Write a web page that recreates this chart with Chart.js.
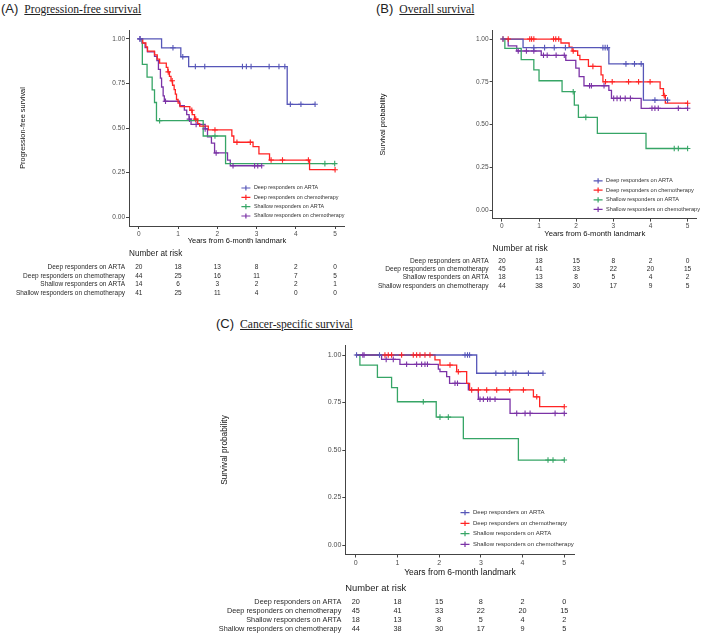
<!DOCTYPE html>
<html>
<head>
<meta charset="utf-8">
<script src="https://cdn.jsdelivr.net/npm/chart.js@4.4.1/dist/chart.umd.min.js"></script>
<style>
  body { margin: 0; background: #fff; width: 702px; height: 636px; position: relative; overflow: hidden; }
  canvas { position: absolute; }
  .ttl { position: absolute; white-space: nowrap; color: #222; line-height: 15px; }
  .ttl .lab { font-family: "Liberation Sans", Arial, sans-serif; font-size: 13px; }
  .ttl .nm { font-family: "Liberation Serif", "Times New Roman", serif; font-size: 11.6px; text-decoration: underline; margin-left: 6px; }
</style>
</head>
<body>
<div class="ttl" style="left:1px;top:0px"><span class="lab">(A)</span><span class="nm">Progression-free survival</span></div>
<div class="ttl" style="left:376px;top:0px"><span class="lab">(B)</span><span class="nm">Overall survival</span></div>
<div class="ttl" style="left:216px;top:315px"><span class="lab">(C)</span><span class="nm">Cancer-specific survival</span></div>

<canvas id="pfs" width="350" height="300" style="left:0;top:0"></canvas>
<canvas id="os" width="352" height="300" style="left:350px;top:0"></canvas>
<canvas id="css" width="400" height="306" style="left:200px;top:330px"></canvas>

<script>
// groups (same order in every panel)
const groups = ["Deep responders on ARTA", "Deep responders on chemotherapy",
  "Shallow responders on ARTA", "Shallow responders on chemotherapy"];
const colors = ["#5656B8", "#FF2424", "#36A566", "#7B33A6"];

const xTicks = [0, 1, 2, 3, 4, 5];
const yTicks = [0, 0.25, 0.5, 0.75, 1];
const yTickLabels = ["0.00", "0.25", "0.50", "0.75", "1.00"];

// (A) progression-free survival: event times, survival after each event, censor times
const pfsTimes = [
  [0.58, 1.07, 1.27, 3.78],
  [0.10, 0.18, 0.22, 0.40, 0.47, 0.53, 0.70, 0.74, 0.78, 0.82, 0.86, 0.90, 0.93, 0.96, 1.00, 1.05, 1.30, 1.36, 1.42, 1.50, 1.55, 1.77, 2.37, 2.42, 2.91, 3.06, 3.33, 4.35],
  [0.09, 0.21, 0.34, 0.40, 0.45, 1.64, 2.21],
  [0.08, 0.16, 0.22, 0.40, 0.46, 0.50, 0.55, 0.58, 0.62, 0.65, 1.04, 1.16, 1.22, 1.28, 1.33, 1.69, 1.75, 1.85, 1.93, 2.26, 2.33]
];
const pfsSurv = [
  [0.95, 0.90, 0.845, 0.633],
  [0.977, 0.955, 0.932, 0.91, 0.886, 0.864, 0.84, 0.815, 0.79, 0.765, 0.74, 0.715, 0.69, 0.66, 0.64, 0.62, 0.60, 0.575, 0.55, 0.525, 0.51, 0.489, 0.455, 0.42, 0.395, 0.355, 0.32, 0.266],
  [0.857, 0.786, 0.714, 0.643, 0.541, 0.455, 0.30],
  [0.976, 0.951, 0.927, 0.902, 0.878, 0.829, 0.78, 0.73, 0.68, 0.65, 0.625, 0.60, 0.575, 0.55, 0.52, 0.495, 0.45, 0.415, 0.36, 0.32, 0.288]
];
const pfsCensor = [
  [0.03, 0.87, 1.12, 1.44, 1.68, 2.64, 2.74, 2.86, 3.32, 3.57, 3.72, 3.86, 4.13, 4.49],
  [0.75, 0.85, 1.35, 1.45, 1.94, 2.50, 2.84, 3.37, 3.66, 4.32, 5.0],
  [0.53, 1.94, 4.74, 4.99],
  [0.03, 0.68, 1.29, 1.46, 1.69, 1.97, 2.40, 2.95, 3.03, 3.13]
];
const pfsAtRisk = [[20, 18, 13, 8, 2, 0], [44, 25, 16, 11, 7, 5], [14, 6, 3, 2, 2, 1], [41, 25, 11, 4, 0, 0]];

// (B) overall survival
const osTimes = [
  [0.57, 2.88, 3.81],
  [1.59, 1.81, 1.89, 2.04, 2.10, 2.33, 2.67, 2.72, 4.26, 4.35, 4.40],
  [0.08, 0.52, 0.86, 1.00, 1.62, 1.95, 2.06, 2.57, 3.88],
  [0.17, 0.40, 1.06, 1.72, 1.99, 2.08, 2.21, 2.88, 2.95, 3.75]
];
const osSurv = [
  [0.95, 0.855, 0.643],
  [0.977, 0.953, 0.93, 0.905, 0.88, 0.84, 0.79, 0.75, 0.71, 0.67, 0.625],
  [0.945, 0.88, 0.82, 0.756, 0.692, 0.614, 0.542, 0.448, 0.36],
  [0.96, 0.93, 0.905, 0.875, 0.83, 0.78, 0.727, 0.70, 0.653, 0.595]
];
const osCensor = [
  [0.03, 0.86, 1.15, 1.41, 1.71, 2.72, 2.78, 2.84, 3.34, 3.57, 3.75, 4.12, 4.46],
  [0.03, 0.17, 0.75, 0.80, 0.86, 1.39, 1.45, 1.53, 1.92, 2.45, 2.79, 2.97, 3.41, 3.68, 3.99, 4.37, 5.0],
  [1.92, 2.26, 4.64, 4.75, 5.0],
  [0.44, 0.66, 0.86, 1.12, 1.22, 1.46, 1.68, 2.36, 2.41, 2.75, 3.01, 3.10, 3.19, 3.32, 3.46, 4.04, 4.12, 4.21, 4.75, 5.0]
];
const osAtRisk = [[20, 18, 15, 8, 2, 0], [45, 41, 33, 22, 20, 15], [18, 13, 8, 5, 4, 2], [44, 38, 30, 17, 9, 5]];

// (C) cancer-specific survival
const cssTimes = [
  [2.90],
  [1.90, 2.02, 2.42, 2.66, 2.73, 4.26, 4.41],
  [0.10, 0.52, 0.86, 1.00, 1.93, 2.58, 3.90],
  [0.62, 1.06, 1.98, 2.02, 2.18, 2.25, 2.70, 2.94, 3.70]
];
const cssSurv = [
  [0.904],
  [0.974, 0.947, 0.912, 0.851, 0.816, 0.78, 0.728],
  [0.947, 0.882, 0.828, 0.754, 0.673, 0.56, 0.447],
  [0.977, 0.951, 0.926, 0.912, 0.886, 0.851, 0.816, 0.767, 0.693]
];
const cssCensor = [
  [0.02, 0.57, 2.62, 2.68, 2.73, 3.36, 3.58, 3.77, 3.84, 4.14, 4.49],
  [0.70, 0.78, 0.86, 1.10, 1.38, 1.46, 1.54, 1.66, 1.78, 2.26, 2.46, 2.78, 2.94, 3.14, 3.38, 3.69, 4.02, 4.34, 5.0],
  [1.62, 2.02, 2.22, 4.61, 4.73, 5.0],
  [0.17, 0.20, 0.73, 0.90, 1.22, 1.46, 1.58, 1.66, 1.72, 2.38, 2.44, 2.98, 3.06, 3.16, 3.22, 3.34, 3.86, 4.06, 4.18, 4.78, 5.0]
];
const cssAtRisk = [[20, 18, 15, 8, 2, 0], [45, 41, 33, 22, 20, 15], [18, 13, 8, 5, 4, 2], [44, 38, 30, 17, 9, 5]];

const FONT = '"Liberation Sans", Arial, sans-serif';

// survival value of a step curve at time t
function survAt(times, surv, t) {
  let s = 1;
  times.forEach((tt, i) => { if (tt <= t) s = surv[i]; });
  return s;
}

function buildDatasets(times, surv, cens) {
  const lines = [], marks = [];
  times.forEach((tArr, g) => {
    const sArr = surv[g];
    const end = Math.max(tArr[tArr.length - 1], ...cens[g]);
    const pts = [{ x: 0, y: 1 }];
    tArr.forEach((t, i) => pts.push({ x: t, y: sArr[i] }));
    pts.push({ x: end, y: sArr[sArr.length - 1] });
    lines.push({
      data: pts, borderColor: colors[g], borderWidth: 1.3, stepped: 'before',
      pointRadius: 0, fill: false
    });
    marks.push({
      data: cens[g].map(t => ({ x: t, y: survAt(tArr, sArr, t) })),
      showLine: false, pointStyle: 'cross', pointRadius: 2.8, borderWidth: 1.1,
      borderColor: colors[g], backgroundColor: colors[g]
    });
  });
  return marks.concat(lines);
}

function makePanel(id, times, surv, cens, atRisk, yTitle, lay) {
  // legend inside the plot + number-at-risk table under it
  const extras = {
    id: 'extras' + id,
    afterDraw(chart) {
      const ctx = chart.ctx, a = chart.chartArea, xs = chart.scales.x;
      ctx.save();
      ctx.textBaseline = 'middle';
      groups.forEach((name, g) => {
        const y = a.bottom - lay.legRows[g];
        const sx = a.right - lay.legSym;
        ctx.strokeStyle = colors[g];
        ctx.lineWidth = 1.2;
        ctx.beginPath();
        ctx.moveTo(sx - 4.5, y); ctx.lineTo(sx + 4.5, y);
        ctx.moveTo(sx, y - 2.6); ctx.lineTo(sx, y + 2.6);
        ctx.stroke();
        ctx.fillStyle = '#333';
        ctx.font = lay.legFont + 'px ' + FONT;
        ctx.textAlign = 'left';
        ctx.fillText(name, a.right - lay.legSym + 8, y);
      });
      ctx.fillStyle = '#222';
      ctx.font = lay.hdrFont + 'px ' + FONT;
      ctx.textAlign = 'left';
      ctx.fillText('Number at risk', a.left, lay.hdrY);
      ctx.font = lay.rowFont + 'px ' + FONT;
      ctx.fillStyle = '#2a2a2a';
      atRisk.forEach((row, g) => {
        const y = lay.rowY[g];
        ctx.textAlign = 'right';
        ctx.fillText(groups[g], a.left - 4, y);
        ctx.textAlign = 'center';
        row.forEach((n, j) => ctx.fillText(String(n), xs.getPixelForValue(xTicks[j]), y));
      });
      ctx.restore();
    }
  };

  return new Chart(document.getElementById(id), {
    type: 'line',
    data: { datasets: buildDatasets(times, surv, cens) },
    options: {
      responsive: false,
      animation: false,
      layout: { padding: lay.pad },
      plugins: { legend: { display: false }, tooltip: { enabled: false } },
      scales: {
        x: {
          type: 'linear', min: -0.25, max: 5.25,
          afterBuildTicks: s => { s.ticks = xTicks.map(v => ({ value: v })); },
          afterFit: s => { s.height = lay.xh; },
          ticks: { font: { size: lay.tickFont, family: FONT }, color: '#4d4d4d', padding: 1, maxRotation: 0 },
          grid: { drawOnChartArea: false, drawTicks: true, tickLength: 3, color: '#444' },
          border: { color: '#444', width: 1 },
          title: { display: true, text: 'Years from 6-month landmark', color: '#111',
            font: { size: lay.xTitleFont, family: FONT }, padding: 0 }
        },
        y: {
          min: -0.05, max: 1.05,
          afterBuildTicks: s => { s.ticks = yTicks.map(v => ({ value: v })); },
          afterFit: s => { s.width = lay.yw; },
          ticks: { font: { size: lay.tickFont, family: FONT }, color: '#4d4d4d', padding: 1,
            callback: (v, i) => yTickLabels[i] },
          grid: { drawOnChartArea: false, drawTicks: true, tickLength: 3, color: '#444' },
          border: { color: '#444', width: 1 },
          title: { display: true, text: yTitle, color: '#111',
            font: { size: lay.yTitleFont, family: FONT }, padding: { top: lay.yTitlePad, bottom: 0 } }
        }
      }
    },
    plugins: [extras]
  });
}

makePanel('pfs', pfsTimes, pfsSurv, pfsCensor, pfsAtRisk, 'Progression-free survival', {
  pad: { left: 0, top: 30, right: 3, bottom: 55 }, yw: 129, xh: 19,
  tickFont: 6.5, xTitleFont: 7.5, yTitleFont: 7.4, yTitlePad: 18.5,
  legSym: 99, legRows: [38, 28.7, 19.3, 10], legFont: 5.4,
  hdrFont: 8.2, hdrY: 254, rowFont: 6.5, rowY: [267.7, 276, 284.3, 293]
});

makePanel('os', osTimes, osSurv, osCensor, osAtRisk, 'Survival probability', {
  pad: { left: 0, top: 30.5, right: 3.2, bottom: 61.4 }, yw: 142.6, xh: 20,
  tickFont: 6.5, xTitleFont: 7.7, yTitleFont: 7.4, yTitlePad: 28.5,
  legSym: 98.8, legRows: [37.8, 28.5, 18.8, 9.2], legFont: 5.6,
  hdrFont: 8.5, hdrY: 248.7, rowFont: 6.6, rowY: [260.7, 269, 277.3, 285.7]
});

makePanel('css', cssTimes, cssSurv, cssCensor, cssAtRisk, 'Survival probability', {
  pad: { left: 0, top: 15.5, right: 25.3, bottom: 58.5 }, yw: 145.3, xh: 23,
  tickFont: 7, xTitleFont: 8.5, yTitleFont: 8.3, yTitlePad: 20,
  legSym: 109.7, legRows: [41.8, 31.2, 20.8, 10.2], legFont: 6,
  hdrFont: 9.4, hdrY: 258.3, rowFont: 7.3, rowY: [271.7, 280.7, 289.7, 298.7]
});
</script>
</body>
</html>
